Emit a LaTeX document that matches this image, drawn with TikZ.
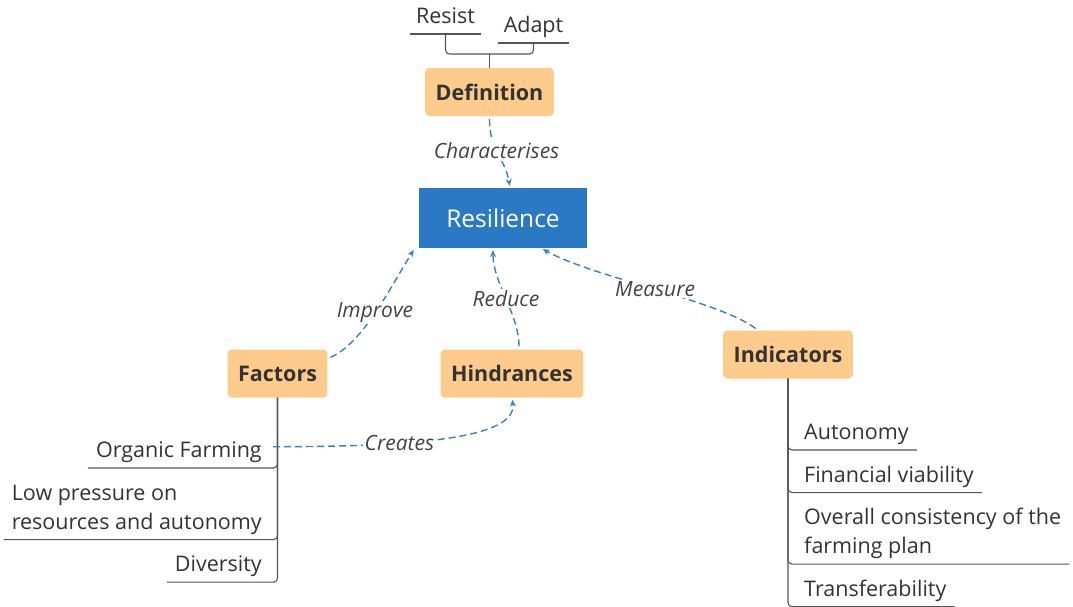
\documentclass[tikz,border=0pt]{standalone}
\usepackage{fontspec}
\setmainfont{Open Sans}
\usetikzlibrary{arrows.meta, positioning}
\definecolor{boxor}{HTML}{FDCB8B}
\definecolor{resblue}{HTML}{2B78C4}
\definecolor{linkblue}{HTML}{3A7FC0}
\definecolor{branchgray}{HTML}{555555}
\definecolor{txtdark}{HTML}{333333}
\definecolor{labgray}{HTML}{444444}
\newcommand{\lfup}{\rule{0pt}{27pt}}
\newcommand{\lfdn}{\rule[-5pt]{0pt}{5pt}}
\begin{document}
\begin{tikzpicture}[x=1pt, y=-1pt,
    n/.style={fill=boxor, rounded corners=4pt, minimum height=48pt, inner xsep=10.5pt, text=txtdark, font=\fontsize{21.5}{26}\selectfont\bfseries},
    r/.style={fill=resblue, minimum width=168pt, minimum height=60pt, text=white, font=\fontsize{24.5}{30}\selectfont},
    lf/.style={inner xsep=8pt, inner ysep=5pt, align=left, text=txtdark, font=\fontsize{21.5}{29}\selectfont},
    br/.style={draw=branchgray, line width=1.1pt, rounded corners=4pt},
    lab/.style={fill=white, inner sep=1.5pt, text=labgray, font=\fontsize{21}{25}\selectfont\itshape},
    e/.style={-{Stealth[length=7pt, width=6pt]}, draw=linkblue, line width=1.4pt, dash pattern=on 7pt off 4pt, shorten <=3pt, shorten >=2pt}]
    \useasboundingbox (0,0) rectangle (1073,606);

    % main boxes
    \draw node[r] (res) at (503,218) {Resilience}
          node[n] (def) at (489.5,92) {Definition}
          node[n] (fac) at (277.5,373.5) {Factors}
          node[n] (hin) at (512,373.5) {Hindrances}
          node[n] (ind) at (788,354.5) {Indicators};

    % definition
    \draw node[lf, inner xsep=6pt, anchor=south] (rs) at (445.5,34) {\lfup Resist\lfdn}
          node[lf, inner xsep=6pt, anchor=south] (ad) at (533.5,43) {\lfup Adapt\lfdn};
    \draw[br] (rs.south west) -- (rs.south east) (ad.south west) -- (ad.south east);
    \draw[br] (rs.south) -- ++(0,20) -| (ad.south);
    \draw[br] (def.north) -- ++(0,-14);

    % factors
    \draw node[lf, anchor=south east] (og) at (270,468) {\lfup Organic Farming\lfdn}
          node[lf, below=0 of og.south east, anchor=north east] (lp) {\lfup Low pressure on\\resources and autonomy\lfdn}
          node[lf, below=0 of lp.south east, anchor=north east] (dv) {\lfup Diversity\lfdn};
    \foreach \c in {og,lp,dv}
    \draw[br] (fac.south) |- (\c.south west);

    % indicators
    \draw node[lf, anchor=south west] (au) at (796,450) {\lfup Autonomy\lfdn}
          node[lf, below=0 of au.south west, anchor=north west] (fv) {\lfup Financial viability\lfdn}
          node[lf, below=0 of fv.south west, anchor=north west] (oc) {\lfup Overall consistency of the\\farming plan\lfdn}
          node[lf, below=0 of oc.south west, anchor=north west] (tr) {\lfup Transferability\lfdn};
    \foreach \c in {au,fv,oc,tr}
    \draw[br] (ind.south) |- (\c.south east);

    % links
    \draw[e] (def.south) .. controls +(0,35) and +(-5,-30) .. ([xshift=7pt]res.north) node[lab, pos=0.45] {Characterises};
    \draw[e] ([yshift=15pt]fac.east) .. controls +(35,-15) and +(-25,40) .. ([xshift=-4pt]res.south west) node[lab, pos=0.5] {Improve};
    \draw[e] ([xshift=7pt]hin.north) .. controls +(0,-35) and +(0,35) .. ([xshift=-10pt]res.south) node[lab, pos=0.5] {Reduce};
    \draw[e] ([xshift=-30pt]ind.north) .. controls +(-40,-30) and +(55,30) .. ([xshift=38pt]res.south) node[lab, pos=0.5] {Measure};
    \draw[e] (og.east) .. controls +(150,0) and +(5,40) .. (hin.south) node[lab, pos=0.33] {Creates};
\end{tikzpicture}
\end{document}
